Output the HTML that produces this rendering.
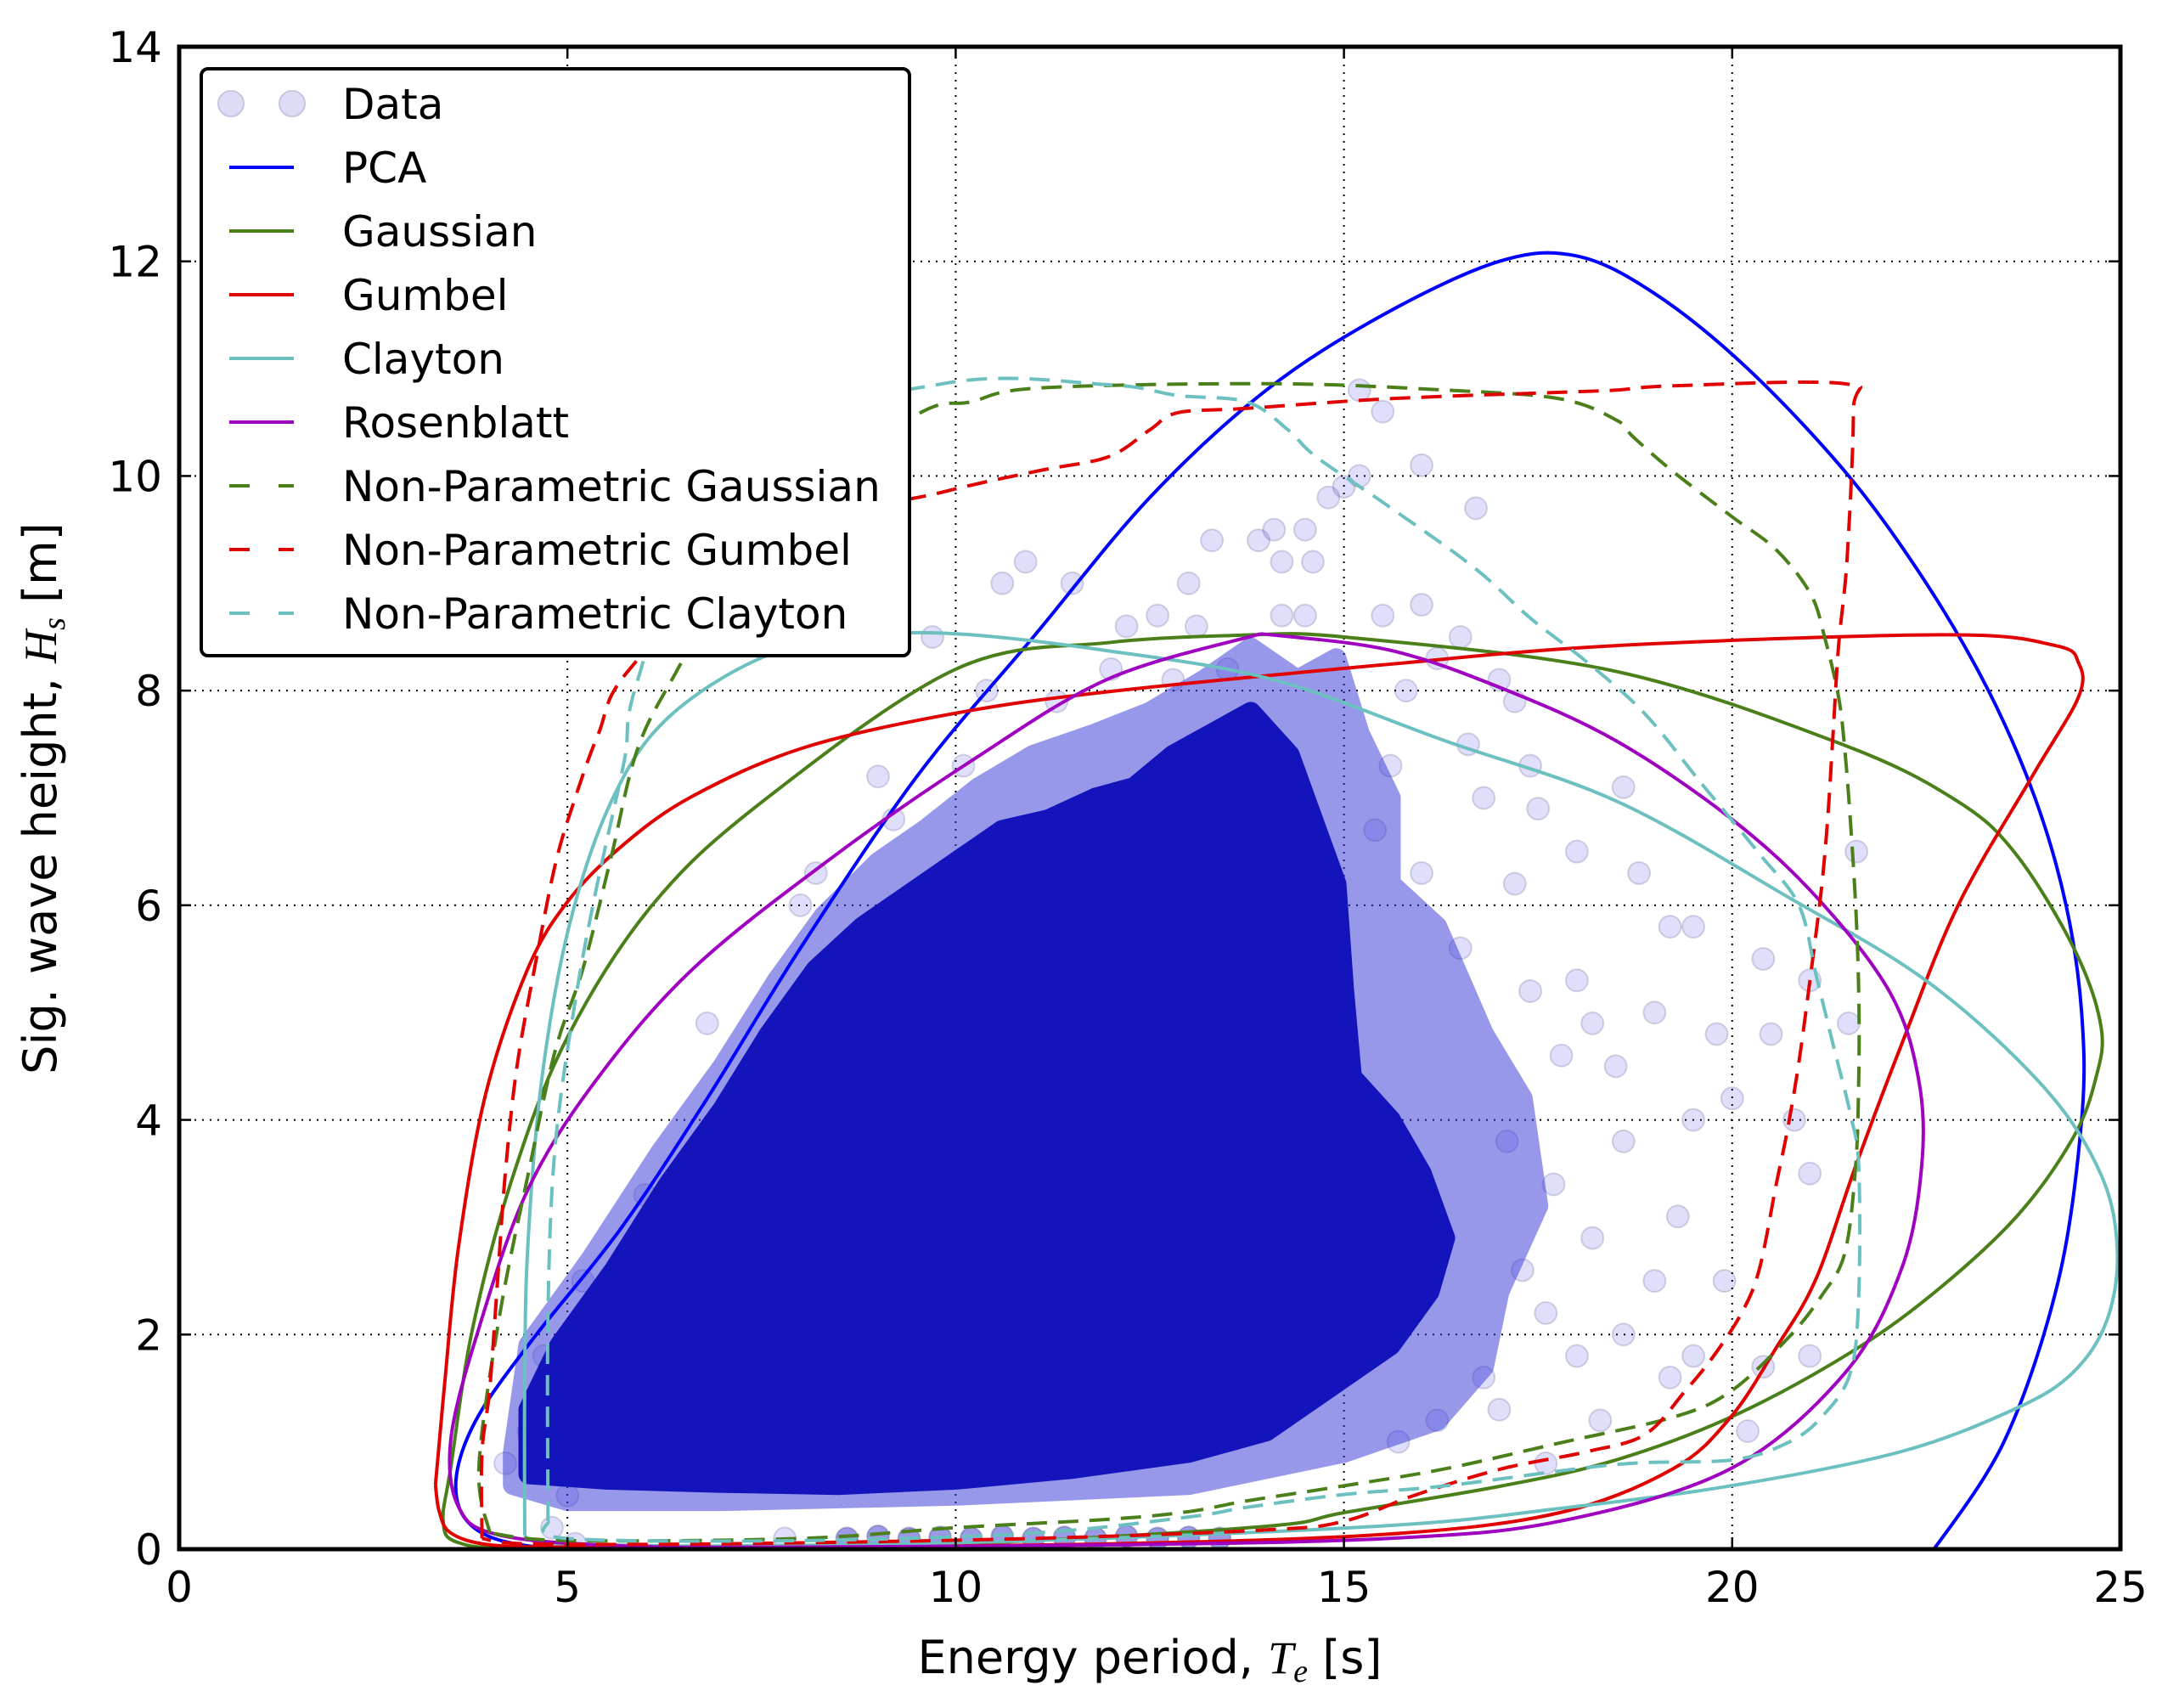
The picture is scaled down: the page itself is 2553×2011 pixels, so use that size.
<!DOCTYPE html>
<html><head><meta charset="utf-8"><style>
html,body{margin:0;padding:0;background:#fff;}
svg{display:block;font-family:"DejaVu Sans","Liberation Sans",sans-serif;}
</style></head><body>
<svg id="chart" width="2553" height="2011" viewBox="0 0 2553 2011" xmlns="http://www.w3.org/2000/svg">
<defs><clipPath id="plotclip"><rect x="211" y="55" width="2286" height="1769"/></clipPath></defs>
<rect x="0" y="0" width="2553" height="2011" fill="#fff"/>
<g id="grid"></g>
<g id="scatter" clip-path="url(#plotclip)"></g>
<g id="curves" clip-path="url(#plotclip)"></g>
<rect x="211" y="55" width="2286" height="1769" fill="none" stroke="#000" stroke-width="5"/>
<g id="ticks"></g>
<text x="1354" y="1970" font-size="54" text-anchor="middle">Energy period, <tspan font-family="Liberation Serif, serif" font-style="italic">T</tspan><tspan font-family="Liberation Serif, serif" font-style="italic" font-size="38" dy="10">e</tspan><tspan dy="-10"> [s]</tspan></text>
<text transform="translate(66,940) rotate(-90)" font-size="54" text-anchor="middle">Sig. wave height, <tspan font-family="Liberation Serif, serif" font-style="italic">H</tspan><tspan font-family="Liberation Serif, serif" font-style="italic" font-size="38" dy="10">s</tspan><tspan dy="-10"> [m]</tspan></text>
<g id="legend"></g>
</svg>
<script>
const NS="http://www.w3.org/2000/svg";
const xTicks=[0,5,10,15,20,25];
const yTicks=[0,2,4,6,8,10,12,14];
const coreRegion=[[4.5,0.7],[4.5,1.3],[4.9,1.9],[5.6,2.6],[6.3,3.4],[7.0,4.1],[7.6,4.8],[8.2,5.4],[8.8,5.8],[9.4,6.1],[10.0,6.4],[10.6,6.7],[11.2,6.8],[11.8,7.0],[12.3,7.1],[12.8,7.4],[13.3,7.6],[13.8,7.8],[14.3,7.4],[14.6,6.8],[14.9,6.2],[15.0,5.2],[15.1,4.4],[15.6,4.0],[16.0,3.5],[16.3,2.9],[16.1,2.4],[15.6,1.9],[14.8,1.5],[14.0,1.1],[13.0,0.9],[11.5,0.75],[10,0.65],[8.5,0.6],[7,0.62],[5.5,0.65]];
const haloRegion=[[4.3,0.9],[4.5,1.9],[5.3,2.7],[6.2,3.7],[7.0,4.5],[7.7,5.3],[8.3,5.9],[9.0,6.4],[9.6,6.7],[10.3,7.1],[11.0,7.4],[11.8,7.6],[12.5,7.8],[13.2,8.1],[13.8,8.4],[14.4,8.1],[14.9,8.3],[15.2,7.6],[15.6,7.0],[15.6,6.2],[16.2,5.8],[16.8,4.8],[17.3,4.2],[17.5,3.2],[17.0,2.4],[16.8,1.7],[16.2,1.2],[15.0,0.9],[13.0,0.6],[10.0,0.5],[7,0.45],[5,0.45],[4.3,0.6]];
const outlierTe=[9.7,10.6,10.9,11.5,12.2,12.6,13.1,13.0,13.3,13.9,14.1,14.2,14.5,14.6,14.8,15.0,15.2,15.2,15.5,16.0,16.7,14.2,14.5,15.5,16.0,16.5,17.0,16.2,15.8,17.4,17.2,18.6,16.6,16.8,17.5,18.0,18.8,19.2,19.5,19.0,19.8,20.4,20.5,21.0,21.5,20.8,21.0,21.0,20.0,19.5,18.5,18.2,18.0,17.4,17.8,18.6,19.3,19.0,18.6,19.5,19.9,20.4,19.2,18.0,17.6,17.0,17.6,18.3,16.5,16.0,15.4,15.6,17.2,17.7,18.2,17.1,17.3,16.8,16.2,15.7,21.6,20.2,6.8,6.0,5.2,4.7,4.5,4.2,5.0,4.8,5.1,7.8,9.0,9.2,8.2,8.0,10.4,10.1,11.3,12.0,12.8,13.5];
const outlierHs=[8.5,9.0,9.2,9.0,8.6,8.7,8.6,9.0,9.4,9.4,9.5,9.2,9.5,9.2,9.8,9.9,10.0,10.8,10.6,10.1,9.7,8.7,8.7,8.7,8.8,8.5,8.1,8.3,8.0,7.3,7.9,7.1,7.5,7.0,6.9,6.5,6.3,5.8,5.8,5.0,4.8,5.5,4.8,5.3,4.9,4.0,3.5,1.8,4.2,4.0,4.5,4.9,5.3,5.2,4.6,3.8,3.1,2.5,2.0,1.8,2.5,1.7,1.6,1.8,2.2,1.3,0.8,1.2,5.6,6.3,6.7,7.3,6.2,3.4,2.9,3.8,2.6,1.6,1.2,1.0,6.5,1.1,4.9,3.3,2.5,1.8,1.1,0.8,0.5,0.2,0.05,0.1,7.2,6.8,6.3,6.0,8.0,7.3,7.9,8.2,8.1,8.2];
const stripTe=[8.6,9.0,9.4,9.8,10.2,10.6,11.0,11.4,11.8,12.2,12.6,13.0,13.4];
const stripHs=[0.1,0.12,0.1,0.11,0.1,0.12,0.1,0.11,0.1,0.12,0.1,0.11,0.1];
const pcaCurve=[[22.5,-0.1],[23.5,1],[24.2,2.5],[24.5,4.0],[24.5,5],[24.3,6],[23.9,7],[23.3,8],[22.5,9],[21.5,10],[20.2,11],[19,11.7],[18,12.05],[17,12.0],[15.5,11.5],[14,10.8],[12.5,9.8],[11,8.5],[9.5,7.2],[8,5.6],[6.8,4.2],[5.7,3.0],[4.6,2.0],[3.9,1.3],[3.6,0.8],[3.6,0.4],[3.9,0.15],[4.5,0.03],[5.5,-0.02]];
const gaussianCurve=[[13.8,8.52],[15,8.5],[18.5,8.18],[21.45,7.49],[22.9,6.97],[23.65,6.48],[24.4,5.6],[24.75,4.87],[24.68,4.38],[24.38,3.82],[23.65,3.09],[22.55,2.36],[21.45,1.8],[19.98,1.23],[18.5,0.83],[17.04,0.59],[15,0.34],[14.1,0.22],[11,0.08],[8,0.02],[4.5,0.01],[3.6,0.06],[3.4,0.26],[3.5,0.77],[3.78,2.06],[4.3,3.48],[5.0,4.77],[6.09,6.0],[7.5,6.96],[10.0,8.2],[12,8.45],[13.8,8.52]];
const gumbelCurve=[[3.3,0.6],[3.42,1.55],[3.6,2.83],[3.95,4.25],[4.49,5.41],[5.02,6.05],[5.73,6.57],[6.62,7.02],[8.05,7.47],[10.0,7.79],[11.97,7.99],[15.5,8.24],[18.51,8.42],[22.77,8.52],[24.16,8.42],[24.46,8.26],[24.46,7.94],[23.87,7.21],[22.91,6.0],[22.18,4.7],[21.59,3.57],[21.08,2.52],[20.57,1.88],[19.98,1.23],[19.24,0.75],[17.78,0.34],[15.57,0.14],[12,0.05],[8,0.02],[5,0.02],[4,0.04],[3.5,0.15],[3.35,0.35],[3.3,0.6]];
const claytonCurve=[[4.45,0.13],[4.45,1.55],[4.49,2.83],[4.67,4.38],[5.02,5.8],[5.56,6.96],[6.27,7.73],[7.51,8.31],[8.76,8.5],[10.0,8.53],[11.97,8.37],[14.1,8.1],[16.31,7.53],[18.51,6.97],[20.71,6.08],[22.55,5.27],[24.02,4.3],[24.75,3.49],[24.96,2.77],[24.82,2.12],[24.38,1.64],[23.65,1.31],[22.18,0.91],[19.98,0.59],[17.78,0.38],[15.57,0.22],[11,0.08],[7,0.03],[5,0.05],[4.55,0.08],[4.45,0.13]];
const rosenblattCurve=[[13.93,8.53],[15.57,8.38],[17.04,8.02],[18.51,7.53],[19.98,6.81],[21.08,6.08],[22.03,5.19],[22.4,4.38],[22.44,3.57],[22.18,2.61],[21.45,1.64],[19.98,0.75],[17.78,0.26],[15.57,0.1],[12,0.04],[8,0.02],[5.73,0.03],[4.13,0.13],[3.6,0.39],[3.5,1.03],[3.86,2.06],[4.49,3.35],[5.38,4.38],[6.62,5.41],[8.4,6.44],[10.19,7.34],[11.97,8.11],[13.93,8.53]];
const npGaussianCurve=[[4.0,0.15],[3.86,0.77],[4.13,2.19],[4.49,3.48],[4.84,4.64],[5.2,5.41],[5.56,6.44],[5.91,7.47],[6.45,8.24],[7.5,9.6],[9.47,10.56],[10.19,10.69],[11.08,10.82],[14.1,10.86],[16.31,10.8],[17.78,10.72],[18.51,10.52],[18.73,10.36],[19.24,10.04],[19.98,9.63],[20.57,9.31],[21.01,8.9],[21.19,8.5],[21.37,7.94],[21.45,7.45],[21.52,6.81],[21.59,6.0],[21.63,5.19],[21.63,4.38],[21.59,3.57],[21.45,2.76],[21.15,2.36],[20.71,1.96],[19.98,1.47],[19.24,1.23],[17.78,0.99],[16.31,0.75],[15,0.59],[13.75,0.45],[13,0.35],[12,0.28],[10,0.2],[8,0.1],[5,0.08],[4.0,0.15]];
const npGumbelCurve=[[3.9,0.1],[3.9,0.9],[4.0,1.5],[4.1,2.5],[4.2,3.5],[4.35,4.5],[4.6,5.5],[4.85,6.4],[5.1,7.0],[5.4,7.6],[5.8,8.2],[7.5,9.4],[9.83,9.85],[11.08,10.05],[11.97,10.18],[12.5,10.43],[12.86,10.59],[13.75,10.63],[15.57,10.72],[17.78,10.78],[18.51,10.8],[19.24,10.84],[21.45,10.86],[21.56,10.6],[21.48,9.23],[21.37,8.42],[21.3,7.61],[21.23,6.81],[21.15,6.16],[21.01,5.35],[20.86,4.54],[20.71,3.9],[20.57,3.41],[20.35,2.61],[20.12,2.2],[19.76,1.8],[19.39,1.47],[18.88,1.07],[18.14,0.91],[17.04,0.75],[15.94,0.51],[15,0.26],[14,0.18],[11,0.1],[7,0.05],[4.5,0.05],[3.9,0.1]];
const npClaytonCurve=[[4.75,0.26],[4.75,2.19],[4.84,3.74],[5.11,5.15],[5.38,6.18],[5.73,7.34],[5.91,8.11],[7.0,10.2],[9.83,10.86],[11.97,10.85],[12.86,10.75],[13.75,10.69],[14.28,10.43],[14.64,10.18],[15.57,9.72],[16.67,9.15],[17.41,8.67],[18.14,8.26],[18.88,7.78],[19.61,7.13],[20.35,6.48],[20.86,6.0],[21.08,5.35],[21.3,4.7],[21.52,4.06],[21.63,3.57],[21.63,2.36],[21.52,1.64],[21.15,1.23],[20.71,0.99],[19.98,0.83],[18.51,0.79],[16.31,0.59],[15,0.51],[13.75,0.39],[13,0.3],[11,0.15],[8,0.08],[5,0.1],[4.75,0.26]];

const X0=211,X1=2497,Y0=1824,Y1=55;
function sx(v){return X0+(v-0)/(25-0)*(X1-X0);}
function sy(v){return Y0-(v-0)/(14-0)*(Y0-Y1);}
function mk(tag,attrs,parent){const e=document.createElementNS(NS,tag);for(const k in attrs)e.setAttribute(k,attrs[k]);parent.appendChild(e);return e;}
function pathFrom(pts,close){return pts.map((p,i)=>(i?'L':'M')+sx(p[0]).toFixed(1)+' '+sy(p[1]).toFixed(1)).join(' ')+(close?' Z':'');}
function smoothPath(pts){
  const P=pts.map(p=>[sx(p[0]),sy(p[1])]);
  let d='M'+P[0][0].toFixed(1)+' '+P[0][1].toFixed(1);
  for(let i=0;i<P.length-1;i++){
    const p0=P[Math.max(i-1,0)],p1=P[i],p2=P[i+1],p3=P[Math.min(i+2,P.length-1)];
    const c1=[p1[0]+(p2[0]-p0[0])/6,p1[1]+(p2[1]-p0[1])/6];
    const c2=[p2[0]-(p3[0]-p1[0])/6,p2[1]-(p3[1]-p1[1])/6];
    d+=' C'+c1[0].toFixed(1)+' '+c1[1].toFixed(1)+' '+c2[0].toFixed(1)+' '+c2[1].toFixed(1)+' '+p2[0].toFixed(1)+' '+p2[1].toFixed(1);
  }
  return d;
}

const grid=document.getElementById('grid');
xTicks.slice(1,-1).forEach(t=>{
  const l=mk('line',{x1:sx(t),x2:sx(t),y1:Y0,y2:Y1,stroke:'#000','stroke-width':2,'stroke-dasharray':'2 7'},grid);
  
  
});
yTicks.slice(1,-1).forEach(t=>{
  const l=mk('line',{x1:X0,x2:X1,y1:sy(t),y2:sy(t),stroke:'#000','stroke-width':2,'stroke-dasharray':'2 7'},grid);
  
  
});

const sc=document.getElementById('scatter');
outlierTe.forEach((t,i)=>{
  const c=mk('circle',{cx:sx(t),cy:sy(outlierHs[i]),r:13,fill:'rgba(40,40,230,0.15)',stroke:'rgba(0,0,60,0.15)','stroke-width':2},sc);
  
  
});
const hg=mk('g',{opacity:0.5},sc);
const halo=mk('path',{d:pathFrom(haloRegion,true),fill:'#3434d8',stroke:'#3434d8','stroke-width':24,'stroke-linejoin':'round'},hg);


const core=mk('path',{d:pathFrom(coreRegion,true),fill:'#1414bc',stroke:'#1414bc','stroke-width':24,'stroke-linejoin':'round'},sc);


stripTe.forEach((t,i)=>{
  const c=mk('circle',{cx:sx(t),cy:sy(stripHs[i]),r:13,fill:'rgba(30,30,200,0.45)',stroke:'rgba(0,0,60,0.2)','stroke-width':2},sc);
  
  
});

const series=[
 ['pca-contour',pcaCurve,'#0000ff',false],
 ['gaussian-contour',gaussianCurve,'#4a7f1a',false],
 ['gumbel-contour',gumbelCurve,'#e00000',false],
 ['clayton-contour',claytonCurve,'#6cc0c0',false],
 ['rosenblatt-contour',rosenblattCurve,'#a000c0',false],
 ['np-gaussian-contour',npGaussianCurve,'#4a7f1a',true],
 ['np-gumbel-contour',npGumbelCurve,'#e00000',true],
 ['np-clayton-contour',npClaytonCurve,'#6cc0c0',true]];
const cg=document.getElementById('curves');
series.forEach(s=>{
  const a={d:smoothPath(s[1]),fill:'none',stroke:s[2],'stroke-width':4,'stroke-linejoin':'round'};
  if(s[3])a['stroke-dasharray']='24 13';
  const p=mk('path',a,cg);
  
  
});

const tk=document.getElementById('ticks');
xTicks.forEach(t=>{
  mk('line',{x1:sx(t),x2:sx(t),y1:Y0,y2:Y0-14,stroke:'#000','stroke-width':2.5},tk);
  mk('line',{x1:sx(t),x2:sx(t),y1:Y1,y2:Y1+14,stroke:'#000','stroke-width':2.5},tk);
  const tx=mk('text',{x:sx(t),y:Y0+62,'font-size':50,'text-anchor':'middle'},tk);
  tx.textContent=t;
  
  
});
yTicks.forEach(t=>{
  mk('line',{x1:X0,x2:X0+14,y1:sy(t),y2:sy(t),stroke:'#000','stroke-width':2.5},tk);
  mk('line',{x1:X1,x2:X1-14,y1:sy(t),y2:sy(t),stroke:'#000','stroke-width':2.5},tk);
  const tx=mk('text',{x:X0-20,y:sy(t)+18,'font-size':50,'text-anchor':'end'},tk);
  tx.textContent=t;
  
  
});

const lg=document.getElementById('legend');
const lbox=mk('rect',{x:237,y:81,width:834,height:691,rx:8,fill:'#fff',stroke:'#000','stroke-width':4},lg);


const labels=['Data','PCA','Gaussian','Gumbel','Clayton','Rosenblatt','Non-Parametric Gaussian','Non-Parametric Gumbel','Non-Parametric Clayton'];
labels.forEach((lab,i)=>{
  const y=122+i*75;
  const g=mk('g',{},lg);
  
  
  if(i===0){
    mk('circle',{cx:272,cy:y,r:15,fill:'#dcdcf6',stroke:'#c6c6de','stroke-width':2},g);
    mk('circle',{cx:344,cy:y,r:15,fill:'#dcdcf6',stroke:'#c6c6de','stroke-width':2},g);
  }else{
    const s=series[i-1];
    const a={x1:270,x2:346,y1:y,y2:y,stroke:s[2],'stroke-width':4};
    if(s[3])a['stroke-dasharray']='24 34';
    mk('line',a,g);
  }
  const t=mk('text',{x:403,y:y+18,'font-size':50},g);
  t.textContent=lab;
});
</script>
</body></html>
